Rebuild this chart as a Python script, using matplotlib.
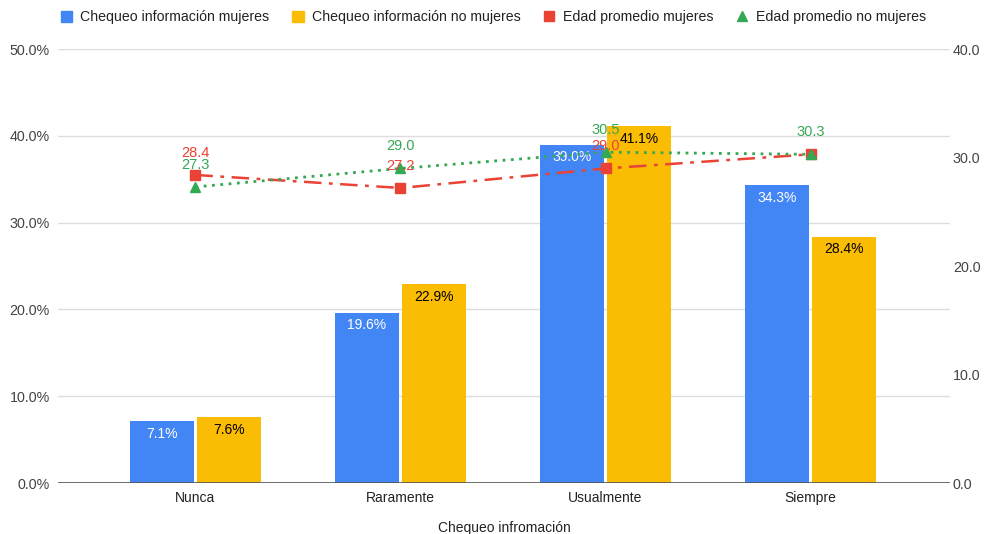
import matplotlib
matplotlib.use('Agg')
import matplotlib.pyplot as plt
import numpy as np

plt.rcParams['font.family'] = ['Liberation Sans', 'DejaVu Sans']

categorias = ['Nunca', 'Raramente', 'Usualmente', 'Siempre']
chequeo_mujeres = [7.1, 19.6, 39.0, 34.3]
chequeo_no_mujeres = [7.6, 22.9, 41.1, 28.4]
edad_mujeres = [28.4, 27.2, 29.0, 30.3]
edad_no_mujeres = [27.3, 29.0, 30.5, 30.3]

AZUL = '#4285F4'
AMARILLO = '#FBBC04'
ROJO = '#EA4335'
VERDE = '#34A853'
GRIS_TXT = '#444444'

fig = plt.figure(figsize=(9.87, 5.34), dpi=100)
ax = fig.add_axes([0.0588, 0.0955, 0.9037, 0.8125])
ax2 = ax.twinx()

x = np.arange(len(categorias))
ancho = 0.31
desp = 0.163

b1 = ax.bar(x - desp, chequeo_mujeres, ancho, color=AZUL, zorder=2,
            label='Chequeo información mujeres')
b2 = ax.bar(x + desp, chequeo_no_mujeres, ancho, color=AMARILLO, zorder=2,
            label='Chequeo información no mujeres')

for rect, v in zip(b1, chequeo_mujeres):
    ax.annotate(f'{v:.1f}%', (rect.get_x() + rect.get_width() / 2, v),
                xytext=(0, -9), textcoords='offset points', ha='center',
                va='center', color='white', fontsize=10, zorder=3)
for rect, v in zip(b2, chequeo_no_mujeres):
    ax.annotate(f'{v:.1f}%', (rect.get_x() + rect.get_width() / 2, v),
                xytext=(0, -9), textcoords='offset points', ha='center',
                va='center', color='black', fontsize=10, zorder=3)

ax.set_ylim(0, 50)
ax.set_xlim(-0.67, 3.68)
ax.set_yticks(np.arange(0, 51, 10))
ax.set_yticklabels([f'{t:.1f}%' for t in range(0, 51, 10)])
ax.set_xticks(x)
ax.set_xticklabels(categorias)
ax.grid(axis='y', color='#dddddd', linewidth=1, zorder=0)
ax.axhline(0, color='#555555', linewidth=1.2, zorder=3)
ax.set_xlabel('Chequeo infromación', fontsize=10, color='#222222', labelpad=11)

ax2.set_ylim(0, 40)
ax2.set_yticks(np.arange(0, 41, 10))
ax2.set_yticklabels([f'{t:.1f}' for t in range(0, 41, 10)])

l1, = ax2.plot(x, edad_mujeres, color=ROJO, linewidth=1.8, dashes=(7, 3, 1.5, 3),
               marker='s', markersize=7, zorder=4, label='Edad promedio mujeres')
l2, = ax2.plot(x, edad_no_mujeres, color=VERDE, linewidth=2, linestyle=(0, (1, 2)),
               marker='^', markersize=7, zorder=5, label='Edad promedio no mujeres')

for i, v in enumerate(edad_mujeres[:3]):
    ax2.annotate(f'{v:.1f}', (x[i], v), xytext=(0, 16), textcoords='offset points',
                 ha='center', va='center', color=ROJO, fontsize=10.5, zorder=6)
for i, v in enumerate(edad_no_mujeres):
    ax2.annotate(f'{v:.1f}', (x[i], v), xytext=(0, 16), textcoords='offset points',
                 ha='center', va='center', color=VERDE, fontsize=10.5, zorder=6)

for a in (ax, ax2):
    for s in a.spines.values():
        s.set_visible(False)
    a.tick_params(length=0, labelsize=10.3, colors=GRIS_TXT)
ax.tick_params(axis='y', pad=6)
ax.tick_params(axis='x', pad=6, colors='#222222', labelsize=10)
ax2.tick_params(axis='y', pad=2)

handles = [b1, b2, l1, l2]
leg = fig.legend(handles=[plt.Rectangle((0, 0), 1, 1, color=AZUL),
                          plt.Rectangle((0, 0), 1, 1, color=AMARILLO),
                          plt.Line2D([], [], color=ROJO, marker='s', linestyle='none', markersize=7),
                          plt.Line2D([], [], color=VERDE, marker='^', linestyle='none', markersize=7)],
                 labels=[h.get_label() for h in handles],
                 loc='center', bbox_to_anchor=(0.5, 0.968), ncol=4, frameon=False,
                 fontsize=10.2, handlelength=0.8, handleheight=0.8, handletextpad=0.6,
                 columnspacing=1.6)
for t in leg.get_texts():
    t.set_color('#222222')

fig.savefig('out.png', dpi=100)
